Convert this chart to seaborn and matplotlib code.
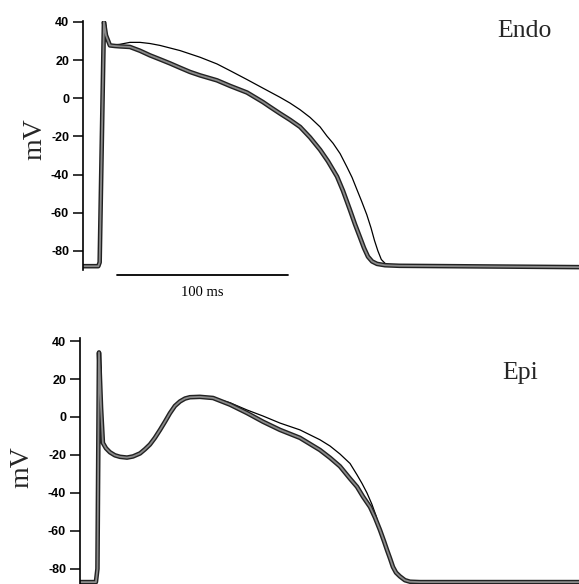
import matplotlib
matplotlib.use("Agg")
import matplotlib.pyplot as plt
import seaborn as sns
import pandas as pd

# ---------------- data (time in ms, membrane potential in mV) ----------------
endo_ctrl_t = [-10, -1.0, -0.2, 2.3, 3.5, 5.8, 8.8, 11.7, 17.5, 23.4, 29.2, 35.1,
               40.9, 46.8, 52.6, 58.5, 68.4, 76, 86, 95.3, 99.4, 105.3, 111.1,
               117, 122.8, 128.7, 133.3, 138.6, 142.1, 146.2, 149.1, 152, 154.4,
               156.7, 159.1, 162, 166.7, 175, 205, 280]
endo_ctrl_v = [-88, -88, -86, 40, 33, 27.7, 27.4, 27.2, 26.9, 24.9, 22.5, 20.4,
               18.3, 16, 13.8, 12, 9.4, 6.5, 3, -2, -4.5, -8, -11.3,
               -15, -20.5, -27, -33, -41, -48.5, -58.6, -66, -72.8, -78.5,
               -83, -85.5, -86.8, -87.5, -87.8, -88, -88.5]

endo_drug_t = [-10, -1.0, -0.2, 2.3, 3.5, 5.8, 11.7, 17.5, 23.4, 29.2, 35.1, 46.8,
               58.5, 68.4, 76, 86, 95.3, 105.3, 111.1, 117, 122.8, 128.7, 132.7,
               136.3, 140.4, 144.4, 147.4, 150.3, 153, 156, 158.5, 160.5,
               162.5, 164.5, 167, 170, 178, 205, 280]
endo_drug_v = [-88, -88, -86, 40, 33, 27.7, 28.3, 29.3, 29.3, 28.7, 27.7, 25,
               21.5, 18, 14.5, 9.8, 5.3, 0.5, -2.5, -6, -10, -15, -19.8,
               -23.6, -29, -36, -41.5, -48, -54, -61, -68, -74.5,
               -80, -84.5, -86.8, -87.6, -88, -88, -88.5]

epi_ctrl_t = [-10.5, -1.2, -0.3, 0.6, 1.8, 2.9, 4.7, 7, 9.9, 12.9, 17, 20.5,
              24.6, 27.5, 30.4, 33.3, 36.3, 39.2, 42.1, 45, 48, 50.9, 53.8,
              59.6, 67.3, 77.2, 87.1, 96.5, 106.4, 118.1, 129.8, 135.7, 141.5,
              147.4, 151.5, 155, 159.1, 162, 164.9, 167.3, 169, 170.8, 172.5,
              174.3, 176.6, 179.5, 182.5, 188.3, 281.3]
epi_ctrl_v = [-87, -87, -80, 34, 5, -13.7, -16.5, -18.6, -20.2, -21, -21.4, -20.8,
              -19.2, -17, -14.5, -11, -6.8, -2.5, 2, 5.8, 8.2, 9.7, 10.4,
              10.6, 10, 6.5, 2.1, -2.5, -6.8, -11, -17.4, -21.5, -26,
              -32.5, -36.8, -42, -47.4, -53, -59.5, -65.5, -70, -74.5, -79,
              -82, -84, -86, -86.8, -87, -87]

epi_drug_t = [-10.5, -1.2, -0.3, 0.6, 1.8, 2.9, 4.7, 7, 9.9, 12.9, 17, 20.5,
              24.6, 27.5, 30.4, 33.3, 36.3, 39.2, 42.1, 45, 48, 50.9, 53.8,
              59.6, 67.3, 77.2, 87.1, 96.5, 106.4, 118.1, 129.8, 135.7, 141.5,
              147.4, 151.5, 154.4, 157.3, 160.2, 162.6, 164.9, 167.3, 169,
              170.8, 172.5, 174.3, 176.6, 179.5, 182.5, 188.3, 281.3]
epi_drug_v = [-87, -87, -80, 34, 5, -13.7, -16.5, -18.6, -20.2, -21, -21.4, -20.8,
              -19.2, -17, -14.5, -11, -6.8, -2.5, 2, 5.8, 8.2, 9.7, 10.4,
              10.6, 10, 7.5, 3.7, 0.5, -3.2, -6.8, -12, -15.3, -19.5,
              -24.5, -30.5, -35, -40, -46, -52, -59.5, -65.5, -70,
              -74.5, -79, -82, -84, -86, -86.8, -87, -87]

y_ticks = [40, 20, 0, -20, -40, -60, -80]
panel_labels = ["Endo", "Epi"]
scale_bar_ms = 100
scale_label = "100 ms"

# ---------------- figure ----------------
sns.set_style("white")
plt.rcParams["font.family"] = ["Liberation Sans", "DejaVu Sans"]

W, H = 579, 584
fig = plt.figure(figsize=(W / 100, H / 100), dpi=100)

ax1 = fig.add_axes([83 / W, 1 - 270 / H, (W - 83) / W, 249 / H])
ax2 = fig.add_axes([80 / W, 0.0, (W - 80) / W, 246 / H])


def draw_traces(ax, ctrl_t, ctrl_v, drug_t, drug_v):
    d_drug = pd.DataFrame({"t": drug_t, "v": drug_v})
    d_ctrl = pd.DataFrame({"t": ctrl_t, "v": ctrl_v})
    sns.lineplot(data=d_drug, x="t", y="v", ax=ax, color="black",
                 linewidth=0.9, sort=False, estimator=None)
    sns.lineplot(data=d_ctrl, x="t", y="v", ax=ax, color="#222222",
                 linewidth=3.3, sort=False, estimator=None,
                 solid_capstyle="round", solid_joinstyle="round")
    sns.lineplot(data=d_ctrl, x="t", y="v", ax=ax, color="#8a8a8a",
                 linewidth=1.3, sort=False, estimator=None,
                 solid_capstyle="round", solid_joinstyle="round")


draw_traces(ax1, endo_ctrl_t, endo_ctrl_v, endo_drug_t, endo_drug_v)
draw_traces(ax2, epi_ctrl_t, epi_ctrl_v, epi_drug_t, epi_drug_v)

ax1.set_xlim(-9.94, 280.1)
ax1.set_ylim(-90, 40.5)
ax2.set_xlim(-10.5, 281.3)
ax2.set_ylim(-88, 41.6)

for ax in (ax1, ax2):
    ax.set_facecolor("none")
    for s in ("top", "right", "bottom"):
        ax.spines[s].set_visible(False)
    ax.spines["left"].set_color("black")
    ax.spines["left"].set_linewidth(1.2)
    ax.set_xticks([])
    ax.set_yticks(y_ticks)
    ax.set_yticklabels([str(v) for v in y_ticks])
    ax.tick_params(axis="y", direction="out", length=7.5, width=1.1,
                   pad=2.5, labelsize=9, colors="black", left=True)
    for lab in ax.get_yticklabels():
        lab.set_fontweight("bold")
    ax.set_xlabel("")
    ax.set_ylabel("")

# scale bar (top panel)
ax1.plot([10, 10 + scale_bar_ms], [-92.7, -92.7], color="black",
         linewidth=1.3, clip_on=False)
ax1.text(10 + scale_bar_ms / 2, -102, scale_label, ha="center", va="center",
         fontsize=10.5, family="Liberation Serif", color="black")

# y labels
fig.text(35 / W, 1 - 139 / H, "mV", rotation=90, ha="center", va="center",
         fontsize=20, family="Liberation Serif")
fig.text(22 / W, 1 - 467 / H, "mV", rotation=90, ha="center", va="center",
         fontsize=20, family="Liberation Serif")

# panel labels
fig.text(497 / W, 1 - 37 / H, panel_labels[0], ha="left", va="baseline",
         fontsize=18.5, family="Liberation Serif")
fig.text(502 / W, 1 - 379 / H, panel_labels[1], ha="left", va="baseline",
         fontsize=18.5, family="Liberation Serif")

fig.savefig("out.png", dpi=100, facecolor="white")
